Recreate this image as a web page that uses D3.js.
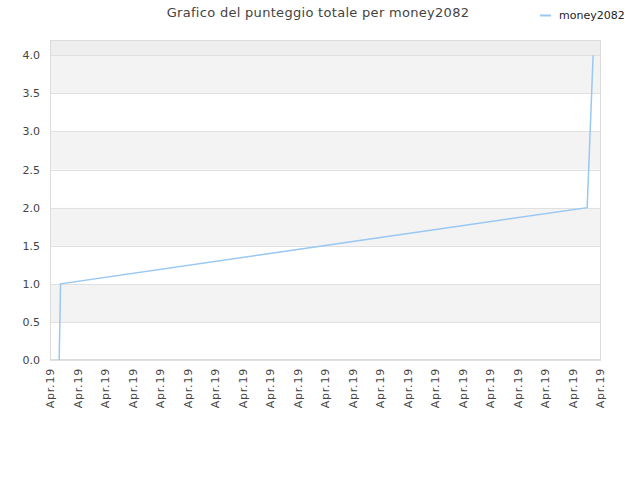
<!DOCTYPE html>
<html>
<head>
<meta charset="utf-8">
<script src="https://cdn.jsdelivr.net/npm/d3@7"></script>
<style>
  body { margin: 0; background: #fff; }
  text { font-family: "DejaVu Sans", sans-serif; }
</style>
</head>
<body>
<div id="wrapper"></div>
<script>
const seriesName = "money2082"
const timestamps = [
  "2019-04-15T00:20", "2019-04-15T00:23",
  "2019-04-15T19:32", "2019-04-15T19:45",
]
const scores = [0, 1, 2, 4]
const xDomain = ["2019-04-15T00:00", "2019-04-15T20:00"]
const yTicks = [0, 0.5, 1, 1.5, 2, 2.5, 3, 3.5, 4]

const parseTime = d3.timeParse("%Y-%m-%dT%H:%M")
const dataset = timestamps.map((t, i) => ({ date: parseTime(t), score: scores[i] }))
const xAccessor = d => d.date
const yAccessor = d => d.score

const dimensions = {
  width: 640,
  height: 480,
  margin: { top: 40, right: 39, bottom: 120, left: 50 },
}
dimensions.boundedWidth = dimensions.width - dimensions.margin.left - dimensions.margin.right
dimensions.boundedHeight = dimensions.height - dimensions.margin.top - dimensions.margin.bottom

const svg = d3.select("#wrapper").append("svg")
  .attr("width", dimensions.width)
  .attr("height", dimensions.height)

svg.append("text")
  .attr("x", 318).attr("y", 17)
  .attr("text-anchor", "middle")
  .attr("font-size", 13)
  .attr("letter-spacing", 0.3)
  .attr("fill", "#444")
  .text("Grafico del punteggio totale per " + seriesName)

// legend
svg.append("line")
  .attr("x1", 540).attr("x2", 551).attr("y1", 15.5).attr("y2", 15.5)
  .attr("stroke", "#99c8f4").attr("stroke-width", 2)
svg.append("text")
  .attr("x", 559).attr("y", 19)
  .attr("font-size", 11)
  .attr("fill", "#222")
  .text(seriesName)

const bounds = svg.append("g")
  .attr("transform", `translate(${dimensions.margin.left},${dimensions.margin.top})`)

const xScale = d3.scaleTime()
  .domain(xDomain.map(parseTime))
  .range([0, dimensions.boundedWidth - 1])

const yScale = d3.scaleLinear()
  .domain([0, 4.2])
  .range([dimensions.boundedHeight, 0])

// alternating bands
const bandEdges = yTicks.concat([4.2])
d3.pairs(bandEdges).forEach(([a, b], i) => {
  bounds.append("rect")
    .attr("x", 0)
    .attr("width", dimensions.boundedWidth)
    .attr("y", yScale(b))
    .attr("height", yScale(a) - yScale(b))
    .attr("fill", b > 4 ? "#eeeeee" : (i % 2 === 1 ? "#f3f3f3" : "#ffffff"))
})

// horizontal grid
bounds.append("g")
  .selectAll("line")
  .data(yTicks)
  .join("line")
    .attr("x1", 0).attr("x2", dimensions.boundedWidth)
    .attr("y1", d => Math.round(yScale(d)) + 0.5)
    .attr("y2", d => Math.round(yScale(d)) + 0.5)
    .attr("stroke", "#e0e0e0")

// frame
bounds.append("rect")
  .attr("x", 0.5).attr("y", 0.5)
  .attr("width", dimensions.boundedWidth - 1)
  .attr("height", dimensions.boundedHeight - 1)
  .attr("fill", "none")
  .attr("stroke", "#dcdcdc")

const lineGenerator = d3.line()
  .x(d => xScale(xAccessor(d)))
  .y(d => yScale(yAccessor(d)))

bounds.append("path")
  .attr("d", lineGenerator(dataset))
  .attr("fill", "none")
  .attr("stroke", "#99c8f4")
  .attr("stroke-width", 1.5)

const yAxisGenerator = d3.axisLeft(yScale)
  .tickValues(yTicks)
  .tickFormat(d3.format(".1f"))
  .tickSize(0)
  .tickPadding(10)
const yAxis = bounds.append("g").call(yAxisGenerator)
yAxis.select(".domain").remove()
yAxis.selectAll("text").attr("font-size", 11).attr("fill", "#444")
  .attr("font-family", "DejaVu Sans, sans-serif")

const xTickValues = d3.range(21).map(i =>
  new Date(+xScale.domain()[0] + i * (xScale.domain()[1] - xScale.domain()[0]) / 20))
const xAxisGenerator = d3.axisBottom(xScale)
  .tickValues(xTickValues)
  .tickFormat(d3.timeFormat("%b.%y"))
  .tickSize(0)
const xAxis = bounds.append("g")
  .attr("transform", `translate(0,${dimensions.boundedHeight})`)
  .call(xAxisGenerator)
xAxis.select(".domain").remove()
xAxis.selectAll("text")
  .attr("font-size", 11)
  .attr("letter-spacing", 0.8)
  .attr("fill", "#444")
  .attr("font-family", "DejaVu Sans, sans-serif")
  .attr("text-anchor", "end")
  .attr("transform", "rotate(-90)")
  .attr("x", -8)
  .attr("y", 0)
  .attr("dy", "0.35em")
</script>
</body>
</html>
